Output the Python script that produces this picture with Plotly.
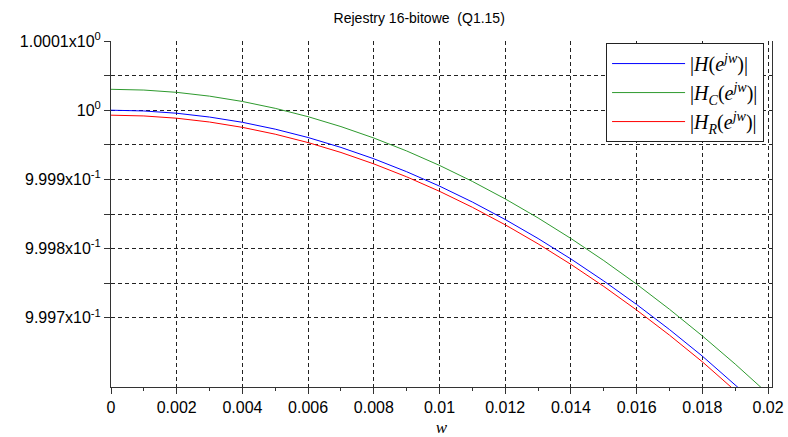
import plotly.graph_objects as go

# frequency samples (rad)
w = [0.000, 0.001, 0.002, 0.003, 0.004, 0.005, 0.006, 0.007, 0.008, 0.009, 0.010,
     0.011, 0.012, 0.013, 0.014, 0.015, 0.016, 0.017, 0.018, 0.019, 0.020]

# |H(e^jw)| (ideal)
H = [1.0000000, 0.9999989, 0.9999956, 0.9999901, 0.9999825, 0.9999726, 0.9999605,
     0.9999462, 0.9999298, 0.9999111, 0.9998903, 0.9998673, 0.9998420, 0.9998146,
     0.9997850, 0.9997532, 0.9997192, 0.9996830, 0.9996446, 0.9996040, 0.9995612]

# |H_C(e^jw)|
HC = [1.0000302, 1.0000291, 1.0000258, 1.0000203, 1.0000126, 1.0000027, 0.9999906,
      0.9999763, 0.9999598, 0.9999411, 0.9999202, 0.9998971, 0.9998718, 0.9998443,
      0.9998146, 0.9997827, 0.9997486, 0.9997123, 0.9996738, 0.9996331, 0.9995902]

# |H_R(e^jw)|
HR = [0.9999928, 0.9999917, 0.9999884, 0.9999829, 0.9999752, 0.9999653, 0.9999532,
      0.9999389, 0.9999224, 0.9999037, 0.9998828, 0.9998597, 0.9998344, 0.9998069,
      0.9997772, 0.9997453, 0.9997112, 0.9996749, 0.9996364, 0.9995957, 0.9995528]

x_tickvals = [0, 0.002, 0.004, 0.006, 0.008, 0.010, 0.012, 0.014, 0.016, 0.018, 0.020]
x_ticktext = ["0", "0.002", "0.004", "0.006", "0.008", "0.01", "0.012", "0.014",
              "0.016", "0.018", "0.02"]

y_tickvals = [0.9997, 0.99975, 0.9998, 0.99985, 0.9999, 0.99995, 1.0, 1.00005, 1.0001]
y_ticktext = ["9.997x10<sup>-1</sup>", "", "9.998x10<sup>-1</sup>", "",
              "9.999x10<sup>-1</sup>", "", "10<sup>0</sup>", "", "1.0001x10<sup>0</sup>"]

names = ["|<i>H</i>(<i>e</i><sup><i>jw</i></sup>)|",
         "|<i>H</i><sub><i>C</i></sub>(<i>e</i><sup><i>jw</i></sup>)|",
         "|<i>H</i><sub><i>R</i></sub>(<i>e</i><sup><i>jw</i></sup>)|"]
colors = ["#0000ff", "#2e9a2e", "#ff0000"]

fig = go.Figure()
for i, (ys, nm, c) in enumerate(zip([H, HC, HR], names, colors)):
    fig.add_trace(go.Scatter(x=w, y=ys, mode="lines", name=nm, legendgroup=f"g{i}",
                             line=dict(color=c, width=1)))

grid = dict(gridcolor="#222222", griddash="4px,3px", gridwidth=1)

fig.update_layout(
    width=788, height=437,
    margin=dict(l=111, r=16, t=41, b=50, autoexpand=False),
    paper_bgcolor="white", plot_bgcolor="white",
    font=dict(family="Liberation Sans, Arial, sans-serif", color="black"),
    title=dict(text="Rejestry 16-bitowe  (Q1.15)", x=0.532,
               xanchor="center", y=0.959, yanchor="middle",
               font=dict(size=14, family="Liberation Sans, Arial, sans-serif")),
    showlegend=True,
    legend=dict(x=0.988, y=0.994, xanchor="right", yanchor="top",
                bgcolor="white", bordercolor="#222222", borderwidth=1,
                font=dict(size=20, family="Liberation Serif, DejaVu Serif, serif"),
                tracegroupgap=0, itemwidth=73),
    xaxis=dict(range=[0, 0.02012], tickvals=x_tickvals, ticktext=x_ticktext,
               automargin=False,
               showgrid=True, **grid, zeroline=False,
               showline=True, linecolor="#333333", linewidth=1, mirror=False,
               ticks="outside", ticklen=6, tickcolor="#333333",
               minor=dict(dtick=0.001, tick0=0, ticks="outside", ticklen=3,
                          tickcolor="#333333", showgrid=False),
               tickfont=dict(size=16),
               title=dict(text="<i>w</i>", standoff=6,
                          font=dict(size=17, family="Liberation Serif, DejaVu Serif, serif"))),
    yaxis=dict(range=[0.99960, 1.0001], tickvals=y_tickvals, ticktext=y_ticktext,
               automargin=False,
               showgrid=True, **grid, zeroline=False,
               showline=True, linecolor="#333333", linewidth=1, mirror=True,
               ticks="outside", ticklen=6, tickcolor="#333333",
               tickfont=dict(size=16)),
)

fig.write_html("out.html", config={"displayModeBar": False},
               post_script="document.body.style.margin='0';document.body.style.overflow='hidden';")
